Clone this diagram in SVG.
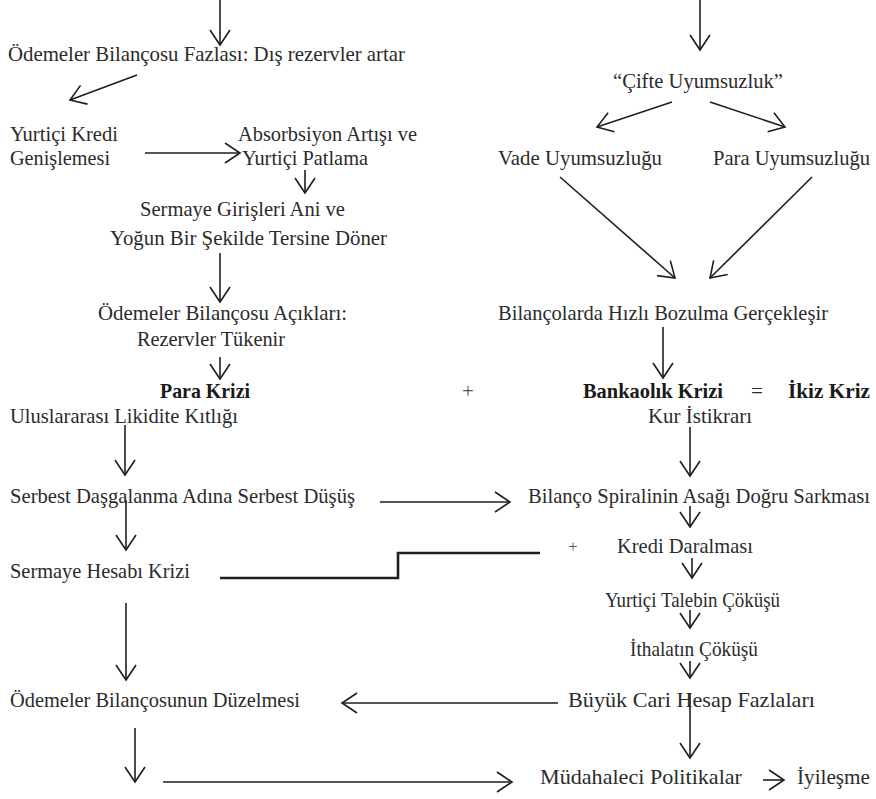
<svg xmlns="http://www.w3.org/2000/svg" width="876" height="799" viewBox="0 0 876 799">
<defs>
<marker id="v" markerUnits="userSpaceOnUse" markerWidth="40" markerHeight="40" refX="0" refY="0" orient="auto" overflow="visible">
<path d="M-15,-10 L0,0 L-15,10" fill="none" stroke="#1e1e1e" stroke-width="1.6"/>
</marker>
</defs>
<style>
text{font-family:"Liberation Serif","Times New Roman",serif;font-size:21px;fill:#2b2b2b}
.b{font-weight:bold;fill:#1a1a1a}
.s{fill:#555}
.c line,.c polyline{stroke:#1e1e1e;stroke-width:1.6;fill:none}
.a{marker-end:url(#v)}
.t{stroke-width:2.6 !important}
</style>
<rect width="876" height="799" fill="#fff"/>
<g class="c" id="connectors">
<line class="a" x1="220" y1="0" x2="220" y2="45"/>
<line class="a" x1="137" y1="75" x2="70" y2="100"/>
<line class="a" x1="145" y1="153" x2="240" y2="153"/>
<line class="a" x1="305" y1="170" x2="305" y2="193"/>
<line class="a" x1="220" y1="253" x2="220" y2="302"/>
<line class="a" x1="220" y1="357" x2="220" y2="379"/>
<line class="a" x1="125" y1="425" x2="125" y2="475"/>
<line class="a" x1="126" y1="500" x2="126" y2="550"/>
<line class="a" x1="380" y1="502" x2="510" y2="502"/>
<polyline class="t" points="220,578 398,578 398,553 540,553"/>
<line class="a" x1="126" y1="603" x2="126" y2="680"/>
<line class="a" x1="558" y1="703" x2="342" y2="703"/>
<line class="a" x1="135" y1="728" x2="135" y2="782"/>
<line class="a" x1="163" y1="782" x2="512" y2="782"/>
<line class="a" x1="763" y1="780" x2="784" y2="780"/>
<line class="a" x1="700" y1="0" x2="700" y2="50"/>
<line class="a" x1="672" y1="102" x2="597" y2="127"/>
<line class="a" x1="710" y1="102" x2="785" y2="127"/>
<line class="a" x1="560" y1="177" x2="675" y2="278"/>
<line class="a" x1="812" y1="177" x2="710" y2="278"/>
<line class="a" x1="663" y1="327" x2="663" y2="378"/>
<line class="a" x1="690" y1="427" x2="690" y2="476"/>
<line class="a" x1="690" y1="506" x2="690" y2="527"/>
<line class="a" x1="692" y1="558" x2="692" y2="578"/>
<line class="a" x1="690" y1="610" x2="690" y2="628"/>
<line class="a" x1="690" y1="661" x2="690" y2="678"/>
<line class="a" x1="690" y1="693" x2="690" y2="758"/>
</g>
<g id="n1"><text x="8" y="61" textLength="397" lengthAdjust="spacingAndGlyphs">Ödemeler Bilançosu Fazlası: Dış rezervler artar</text></g>
<g id="n2"><text x="10" y="141" textLength="108" lengthAdjust="spacingAndGlyphs">Yurtiçi Kredi</text><text x="10" y="165" textLength="100" lengthAdjust="spacingAndGlyphs">Genişlemesi</text></g>
<g id="n3"><text x="238" y="141" textLength="179" lengthAdjust="spacingAndGlyphs">Absorbsiyon Artışı ve</text><text x="242" y="165" textLength="126" lengthAdjust="spacingAndGlyphs">Yurtiçi Patlama</text></g>
<g id="n4"><text x="140" y="216" textLength="205" lengthAdjust="spacingAndGlyphs">Sermaye Girişleri Ani ve</text><text x="110" y="245" textLength="277" lengthAdjust="spacingAndGlyphs">Yoğun Bir Şekilde Tersine Döner</text></g>
<g id="n5"><text x="98" y="320" textLength="249" lengthAdjust="spacingAndGlyphs">Ödemeler Bilançosu Açıkları:</text><text x="137" y="346" textLength="148" lengthAdjust="spacingAndGlyphs">Rezervler Tükenir</text></g>
<g id="n6"><text class="b" x="160" y="398" textLength="90" lengthAdjust="spacingAndGlyphs">Para Krizi</text></g>
<g id="n7"><text x="10" y="423" textLength="228" lengthAdjust="spacingAndGlyphs">Uluslararası Likidite Kıtlığı</text></g>
<g id="n8"><text x="10" y="503" textLength="345" lengthAdjust="spacingAndGlyphs">Serbest Daşgalanma Adına Serbest Düşüş</text></g>
<g id="n9"><text x="10" y="578" textLength="180" lengthAdjust="spacingAndGlyphs">Sermaye Hesabı Krizi</text></g>
<g id="n10"><text x="10" y="707" textLength="290" lengthAdjust="spacingAndGlyphs">Ödemeler Bilançosunun Düzelmesi</text></g>
<g id="n11"><text x="613" y="88" textLength="170" lengthAdjust="spacingAndGlyphs">“Çifte Uyumsuzluk”</text></g>
<g id="n12"><text x="498" y="165" textLength="164" lengthAdjust="spacingAndGlyphs">Vade Uyumsuzluğu</text></g>
<g id="n13"><text x="713" y="165" textLength="157" lengthAdjust="spacingAndGlyphs">Para Uyumsuzluğu</text></g>
<g id="n14"><text x="498" y="320" textLength="330" lengthAdjust="spacingAndGlyphs">Bilançolarda Hızlı Bozulma Gerçekleşir</text></g>
<g id="n15"><text class="s" x="468" y="398" text-anchor="middle">+</text></g>
<g id="n16"><text class="b" x="583" y="398" textLength="140" lengthAdjust="spacingAndGlyphs">Bankaolık Krizi</text></g>
<g id="n17"><text x="757" y="398" text-anchor="middle">=</text></g>
<g id="n18"><text class="b" x="788" y="398" textLength="82" lengthAdjust="spacingAndGlyphs">İkiz Kriz</text></g>
<g id="n19"><text x="648" y="423" textLength="104" lengthAdjust="spacingAndGlyphs">Kur İstikrarı</text></g>
<g id="n20"><text x="528" y="503" textLength="342" lengthAdjust="spacingAndGlyphs">Bilanço Spiralinin Asağı Doğru Sarkması</text></g>
<g id="n21"><text class="s" x="573" y="552" text-anchor="middle" style="font-size:16px">+</text></g>
<g id="n22"><text x="617" y="553" textLength="136" lengthAdjust="spacingAndGlyphs">Kredi Daralması</text></g>
<g id="n23"><text x="605" y="607" textLength="175" lengthAdjust="spacingAndGlyphs">Yurtiçi Talebin Çöküşü</text></g>
<g id="n24"><text x="630" y="656" textLength="128" lengthAdjust="spacingAndGlyphs">İthalatın Çöküşü</text></g>
<g id="n25"><text x="568" y="707" textLength="247" lengthAdjust="spacingAndGlyphs">Büyük Cari Hesap Fazlaları</text></g>
<g id="n26"><text x="540" y="784" textLength="202" lengthAdjust="spacingAndGlyphs">Müdahaleci Politikalar</text></g>
<g id="n27"><text x="797" y="784" textLength="73" lengthAdjust="spacingAndGlyphs">İyileşme</text></g>
</svg>
